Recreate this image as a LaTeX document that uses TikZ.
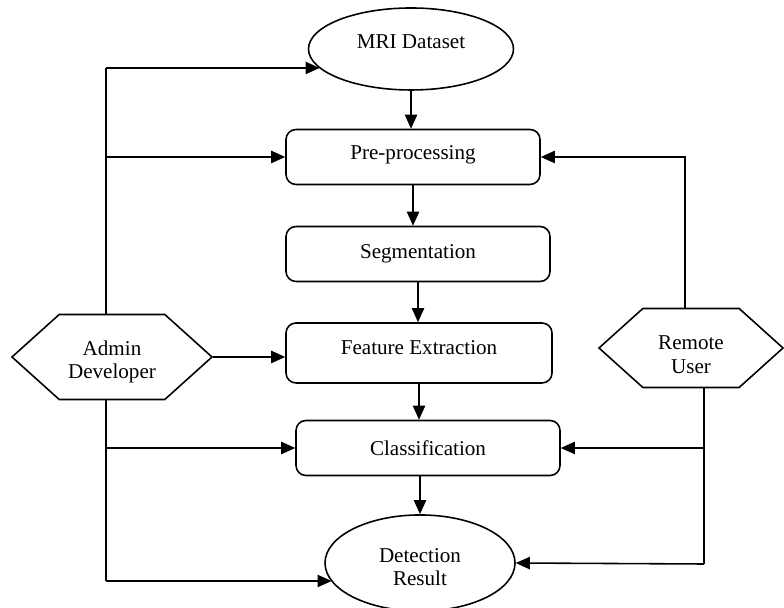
\documentclass[tikz,border=0pt]{standalone}
\usepackage{fontspec}
\setmainfont{Liberation Serif}
\usetikzlibrary{shapes.geometric,shapes.symbols,arrows.meta}

\begin{document}
\begin{tikzpicture}[line width=0.9pt,
    font=\fontsize{12}{13.5}\selectfont,
    stage/.style={draw,rounded corners=0.2cm,minimum height=1.1cm,align=center},
    data/.style={draw,ellipse,minimum width=4.1cm,minimum height=1.64cm,align=center},
    actor/.style={draw,signal,signal to=west and east,signal pointer angle=84,
      minimum height=1.7cm,inner sep=1pt,align=center},
    flow/.style={-{Triangle[length=8pt,width=7pt]}}]
  \useasboundingbox (0,0) rectangle (15.68,12.16);
  % main chain
  \node[data,text height=9pt,text depth=9pt] (mri) at (8.22,11.18) {MRI Dataset};
  \node[stage,minimum width=5.08cm,text height=9pt,text depth=5.6pt] (pre) at (8.26,9.02) {Pre-processing};
  \node[stage,minimum width=5.28cm] (seg) at (8.36,7.08) {Segmentation};
  \node[stage,minimum width=5.32cm,minimum height=1.2cm,text height=9pt,text depth=7.8pt] (feat) at (8.38,5.10) {Feature Extraction};
  \node[stage,minimum width=5.28cm] (cls) at (8.56,3.20) {Classification};
  \node[data,minimum width=3.8cm,text height=29pt,text depth=3pt] (det) at (8.40,0.90) {Detection\\Result};
  % users
  \node[actor,minimum width=4.0cm,text height=28pt,text depth=3pt] (admin) at (2.24,5.02) {Admin\\Developer};
  \node[actor,minimum width=3.68cm,minimum height=1.58cm,text height=31.5pt,text depth=3pt] (user) at (13.82,5.20) {Remote\\User};
  \coordinate (aT) at (2.12,10.80);
  \coordinate (aB) at (2.12,0.54);
  \coordinate (uT) at (13.70,9.12);
  \coordinate (uB) at (14.08,0.88);

  \draw[flow] (mri.south) -- (mri.south |- pre.north);
  \draw[flow] (pre.south) -- (pre.south |- seg.north);
  \draw[flow] (seg.south) -- (seg.south |- feat.north);
  \draw[flow] (feat.south) -- (feat.south |- cls.north);
  \draw[flow] (det.north |- cls.south) -- (det.north);

  \draw (aT |- admin.north) -- (aT);
  \draw[flow] (aT) -- (aT -| mri.192);
  \draw[flow] (aT |- pre.west) -- (pre.west);
  \draw[flow] (admin.east) -- (admin.east -| feat.west);
  \draw (aB |- admin.south) -- (aB);
  \draw[flow] (aB |- cls.west) -- (cls.west);
  \draw[flow] (aB) -- (aB -| det.192);

  \draw[flow] (uT |- user.north) -- (uT |- pre.east) -- (pre.east);
  \draw (uB |- user.south) -- (uB);
  \draw[flow] (uB |- cls.east) -- (cls.east);
  \draw[flow] (uB) -- (det.east);
\end{tikzpicture}
\end{document}
